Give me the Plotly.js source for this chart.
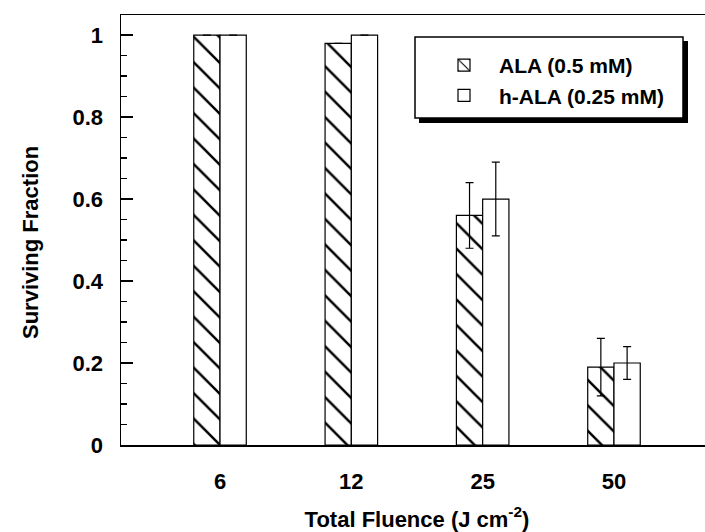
<!DOCTYPE html>
<html><head><meta charset="utf-8">
<script src="https://cdn.plot.ly/plotly-3.0.1.min.js"></script>
<style>html,body{margin:0;padding:0;overflow:hidden;background:#fff;}#chart{width:720px;height:532px;}</style>
</head><body><div id="chart"></div>
<script>
const categories = ['6', '12', '25', '50'];
const alaValues = [1.0, 0.98, 0.56, 0.19];
const alaErrors = [null, null, 0.08, 0.07];
const halaValues = [1.0, 1.0, 0.60, 0.20];
const halaErrors = [null, null, 0.09, 0.04];
const seriesNames = ['ALA (0.5 mM)', 'h-ALA (0.25 mM)'];
const yTitle = 'Surviving Fraction';
const xTitle = 'Total Fluence (J cm<sup>-2</sup>)';

const W = 720, H = 532;
const M = {l: 121, r: 7, t: 15, b: 87};
const pw = W - M.l - M.r, ph = H - M.t - M.b;
const px = v => (v - M.l) / pw;
const py = v => (H - M.b - v) / ph;

const fam = 'Liberation Sans, Arial, sans-serif';
const font = {family: fam, color: '#000', weight: 'bold'};

const traces = [
  {
    type: 'bar', name: seriesNames[0], x: categories, y: alaValues,
    marker: {color: '#fff', line: {color: '#000', width: 1.2},
      pattern: {shape: '\\', fgcolor: '#000', bgcolor: '#fff', fgopacity: 1, size: 18, solidity: 0.14, fillmode: 'replace'}},
    error_y: {type: 'data', array: alaErrors, visible: true, color: '#000', thickness: 1.2, width: 4}
  },
  {
    type: 'bar', name: seriesNames[1], x: categories, y: halaValues,
    marker: {color: '#fff', line: {color: '#000', width: 1.2}},
    error_y: {type: 'data', array: halaErrors, visible: true, color: '#000', thickness: 1.2, width: 4}
  }
];

const layout = {
  width: W, height: H, margin: M,
  paper_bgcolor: '#fff', plot_bgcolor: '#fff',
  showlegend: true,
  bargap: 0.6, bargroupgap: 0,
  font: font,
  xaxis: {
    type: 'category', range: [-0.754, 3.754],
    showline: true, linecolor: '#000', linewidth: 1.5, mirror: true,
    ticks: '', showgrid: false, zeroline: false,
    tickfont: {family: fam, size: 22, weight: 'bold', color: '#000'},
    ticklabelstandoff: 16,
    title: {text: xTitle, font: {family: fam, size: 22, weight: 'bold', color: '#000'}, standoff: 18}
  },
  yaxis: {
    range: [0, 1.049], dtick: 0.2, tick0: 0,
    showline: true, linecolor: '#000', linewidth: 1.5,
    ticks: 'inside', ticklen: 12, tickwidth: 1.2, tickcolor: '#000',
    minor: {dtick: 0.05, ticks: 'inside', ticklen: 6, tickwidth: 1.2, tickcolor: '#000', showgrid: false},
    showgrid: false, zeroline: false,
    tickfont: {family: fam, size: 22, weight: 'bold', color: '#000'},
    ticklabelstandoff: 12
  },
  yaxis2: {
    overlaying: 'y', side: 'right', range: [0, 1.049], dtick: 0.2, tick0: 0,
    showline: true, linecolor: '#000', linewidth: 1.5,
    ticks: 'inside', ticklen: 12, tickwidth: 1.2, tickcolor: '#000',
    showticklabels: false, showgrid: false, zeroline: false
  },
  legend: {
    x: px(429), y: py(45), xanchor: 'left', yanchor: 'top',
    bgcolor: 'rgba(0,0,0,0)', borderwidth: 0,
    font: {family: fam, size: 21, weight: 'bold', color: '#000'},
    itemwidth: 60, tracegroupgap: 0
  },
  shapes: [
    {type: 'rect', xref: 'paper', yref: 'paper', x0: px(419), x1: px(688), y0: py(41), y1: py(123),
      fillcolor: '#000', line: {width: 0}, layer: 'above'},
    {type: 'rect', xref: 'paper', yref: 'paper', x0: px(415), x1: px(683), y0: py(37), y1: py(118),
      fillcolor: '#fff', line: {color: '#000', width: 1.5}, layer: 'above'}
  ],
  annotations: [
    {text: yTitle, textangle: -90, xref: 'paper', yref: 'paper', x: px(31), y: py(243),
      xanchor: 'center', yanchor: 'middle', showarrow: false,
      font: {family: fam, size: 22, weight: 'bold', color: '#000'}}
  ]
};

Plotly.newPlot('chart', traces, layout, {displayModeBar: false, staticPlot: true});
</script></body></html>
